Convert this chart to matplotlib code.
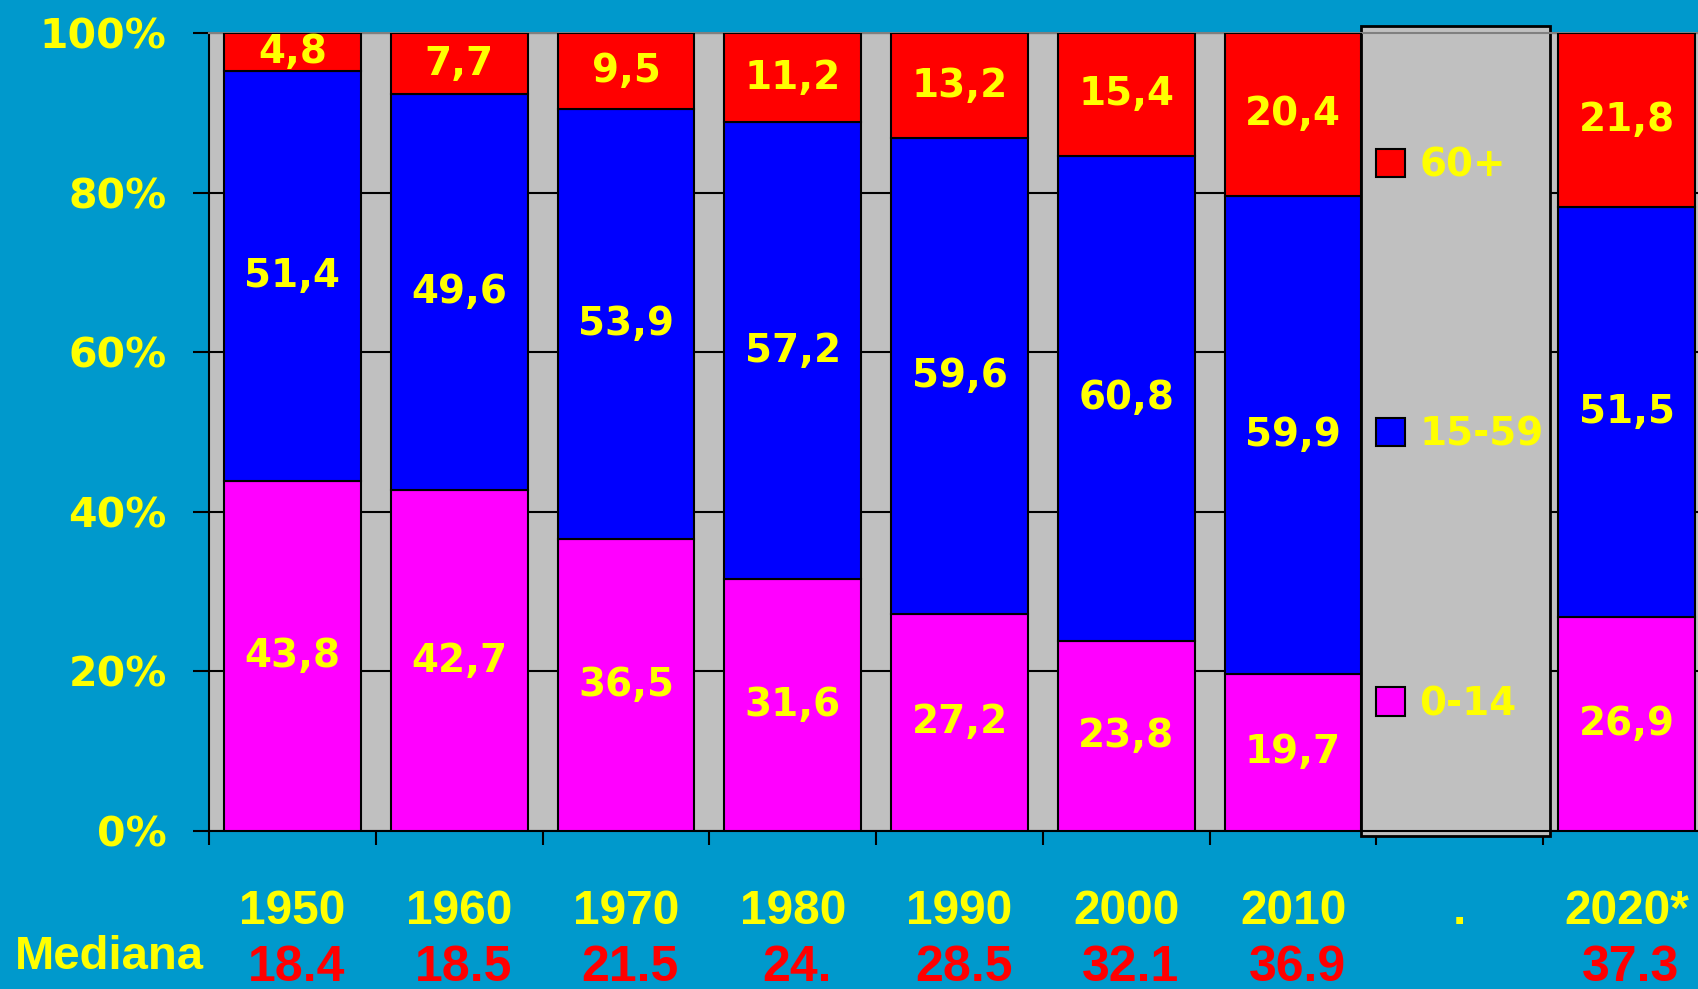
import numpy as np
import matplotlib.pyplot as plt
from matplotlib.patches import Rectangle

# -----------------------------
# Data
# -----------------------------

years = ["1950", "1960", "1970", "1980", "1990", "2000", "2010", ".", "2020*"]
medians = ["18.4", "18.5", "21.5", "24.", "28.5", "32.1", "36.9", "", "37.3"]

# the "." slot holds the legend, no bar there
bar_slots = [0, 1, 2, 3, 4, 5, 6, 8]

age_0_14 = np.array([43.8, 42.7, 36.5, 31.6, 27.2, 23.8, 19.7, 26.9])
age_15_59 = np.array([51.4, 49.6, 53.9, 57.2, 59.6, 60.8, 59.9, 51.5])
age_60 = np.array([4.8, 7.7, 9.5, 11.2, 13.2, 15.4, 20.4, 21.8])

groups = ["0-14", "15-59", "60+"]
colors = ["#FF00FF", "#0000FF", "#FF0000"]

bg = "#0099CC"
yellow = "#FFFF00"

# -----------------------------
# Figure
# -----------------------------

fig = plt.figure(figsize=(16.99, 9.89), dpi=100, facecolor=bg)
ax = fig.add_axes([0.123, 0.1598, 0.8835, 0.8069])
ax.set_facecolor("#C0C0C0")

total = age_0_14 + age_15_59 + age_60
series = [age_0_14, age_15_59, age_60]

bottom = np.zeros(len(bar_slots))
containers = []
for vals, col, name in zip(series, colors, groups):
    share = vals / total * 100
    bars = ax.bar(
        bar_slots, share, width=0.82, bottom=bottom,
        color=col, edgecolor="black", linewidth=1.5,
        label=name, zorder=3
    )
    ax.bar_label(
        bars,
        labels=[f"{v:.1f}".replace(".", ",") for v in vals],
        label_type="center",
        color=yellow, fontsize=28, fontweight="bold",
        family="DejaVu Sans", zorder=4
    )
    containers.append(bars)
    bottom = bottom + share

ax.set_xlim(-0.5, 8.5)
ax.set_ylim(0, 100)

# horizontal grid
ax.set_yticks([0, 20, 40, 60, 80, 100])
ax.set_yticklabels(["0%", "20%", "40%", "60%", "80%", "100%"])
ax.yaxis.grid(True, color="black", linewidth=1.5, zorder=1)
ax.set_axisbelow(True)
ax.tick_params(
    axis="y", direction="out", length=11.5, width=1.5, color="black",
    pad=19, labelcolor=yellow, labelsize=29.5
)
for lab in ax.get_yticklabels():
    lab.set_fontweight("bold")
    lab.set_family("DejaVu Sans")

# categories: ticks on boundaries, year labels in centers
ax.set_xticks(np.arange(len(years)))
ax.set_xticklabels(years)
ax.set_xticks(np.arange(-0.5, len(years)), minor=True)
ax.tick_params(axis="x", which="major", length=0, pad=42,
               labelcolor=yellow, labelsize=34.5)
ax.tick_params(axis="x", which="minor", direction="out", length=10,
               width=1.5, color="black")
for lab in ax.get_xticklabels():
    lab.set_fontweight("bold")
    lab.set_family("Liberation Sans")

for s in ["left", "bottom"]:
    ax.spines[s].set_color("black")
    ax.spines[s].set_linewidth(1.5)
ax.spines["top"].set_color("#808080")
ax.spines["top"].set_linewidth(1.5)
ax.spines["right"].set_visible(False)

# medians
for i, m in enumerate(medians):
    ax.annotate(
        m, xy=(i, 0), xycoords=("data", "axes fraction"),
        xytext=(3, -108), textcoords="offset points",
        ha="center", va="baseline", color="#FF0000",
        fontsize=36, fontweight="bold", family="Liberation Sans",
        annotation_clip=False
    )

fig.text(15 / 1699, 1 - 969 / 989, "Mediana", ha="left", va="baseline",
         color=yellow, fontsize=34, fontweight="bold", family="Liberation Sans")

# -----------------------------
# Legend in the empty slot
# -----------------------------

box = Rectangle(
    (6.41, -0.006), 1.13, 1.015,
    transform=ax.get_xaxis_transform(),
    facecolor="#C0C0C0", edgecolor="black", linewidth=2,
    clip_on=False, zorder=2
)
ax.add_patch(box)

leg = ax.legend(
    containers[::-1], groups[::-1],
    loc="center left", bbox_to_anchor=(0.7775, 0.4965),
    frameon=False, borderpad=0, borderaxespad=0,
    handlelength=0.75, handleheight=0.75, handletextpad=0.36,
    labelspacing=5.95,
    prop={"family": "DejaVu Sans", "weight": "bold", "size": 28}
)
for t in leg.get_texts():
    t.set_color(yellow)
leg.set_zorder(5)

plt.savefig("out.png", dpi=100, facecolor=bg)
